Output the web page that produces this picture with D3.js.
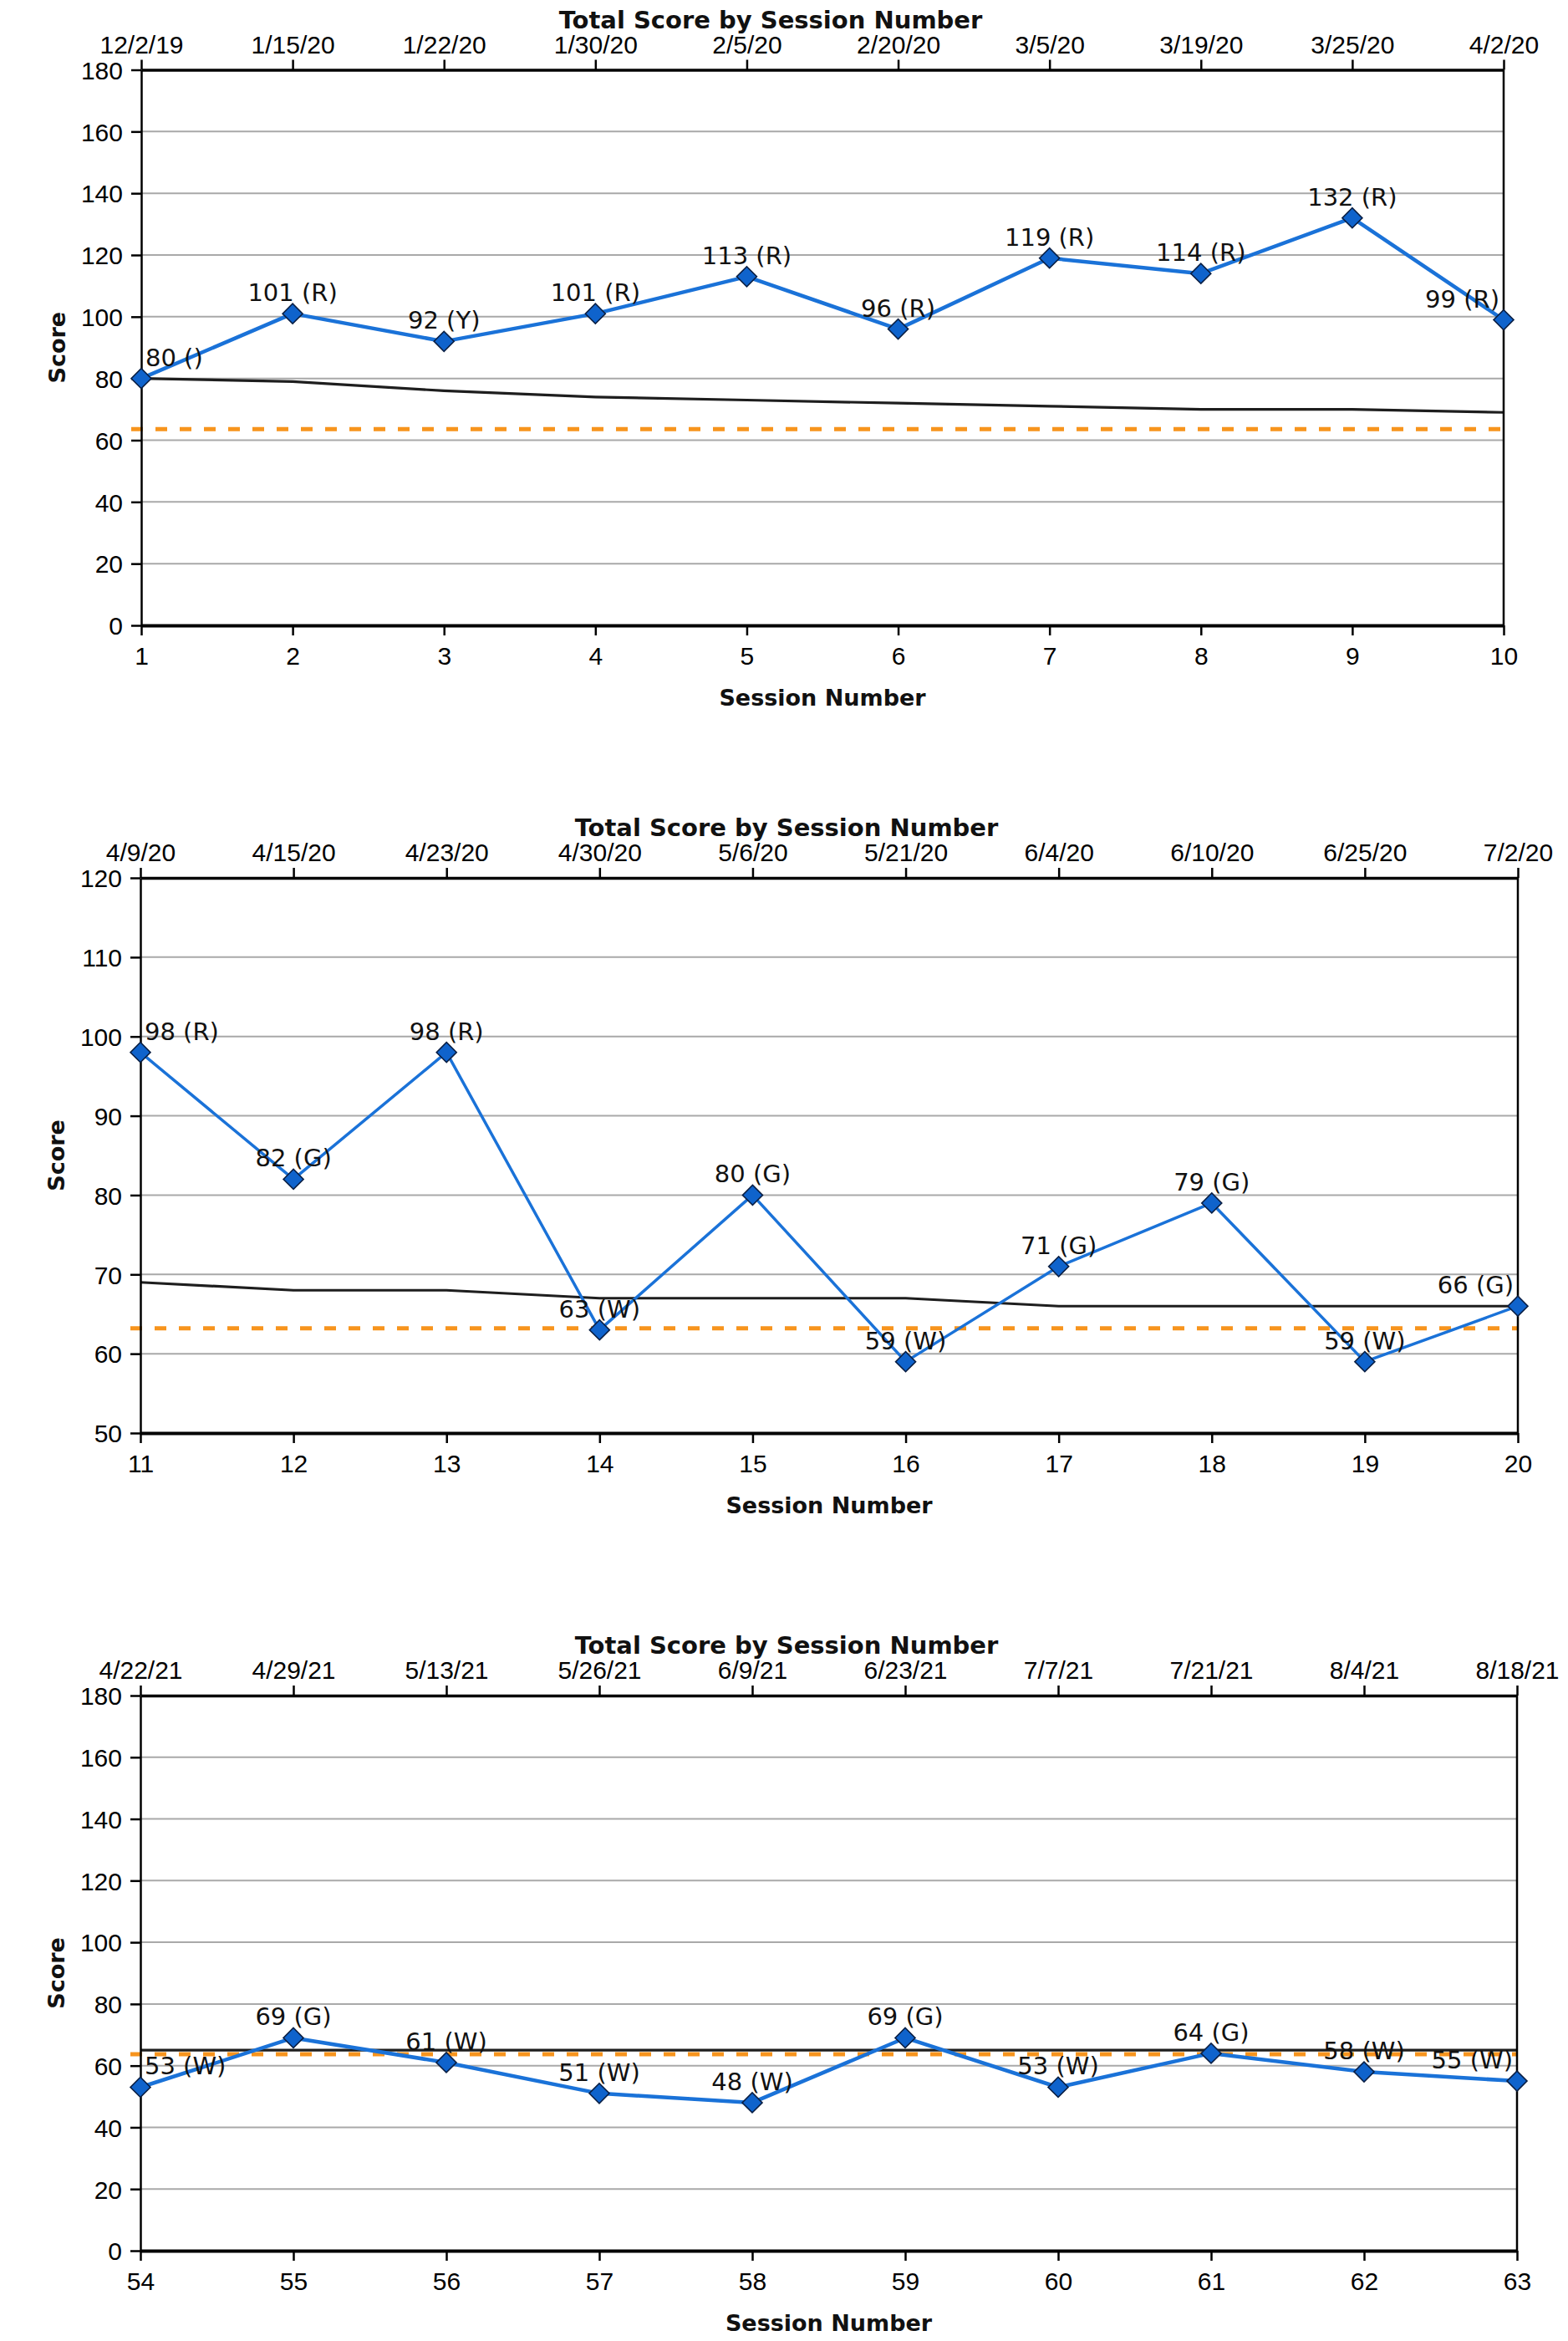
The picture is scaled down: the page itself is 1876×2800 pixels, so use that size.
<!DOCTYPE html>
<html><head><meta charset="utf-8">
<script src="https://cdn.jsdelivr.net/npm/d3@7"></script>
<style>body{margin:0;background:#fff}</style>
</head><body>
<svg id="c" width="1876" height="2800" style="display:block;background:#fff"></svg>
<script>
// ---------- data ----------
const sessions1 = [1,2,3,4,5,6,7,8,9,10];
const dates1 = ["12/2/19","1/15/20","1/22/20","1/30/20","2/5/20","2/20/20","3/5/20","3/19/20","3/25/20","4/2/20"];
const scores1 = [80,101,92,101,113,96,119,114,132,99];
const codes1 = ["","R","Y","R","R","R","R","R","R","R"];
const trend1 = [80,79,76,74,73,72,71,70,70,69];
const cutoff1 = 63.6;
const yTicks1 = [0,20,40,60,80,100,120,140,160,180];

const sessions2 = [11,12,13,14,15,16,17,18,19,20];
const dates2 = ["4/9/20","4/15/20","4/23/20","4/30/20","5/6/20","5/21/20","6/4/20","6/10/20","6/25/20","7/2/20"];
const scores2 = [98,82,98,63,80,59,71,79,59,66];
const codes2 = ["R","G","R","W","G","W","G","G","W","G"];
const trend2 = [69,68,68,67,67,67,66,66,66,66];
const cutoff2 = 63.2;
const yTicks2 = [50,60,70,80,90,100,110,120];

const sessions3 = [54,55,56,57,58,59,60,61,62,63];
const dates3 = ["4/22/21","4/29/21","5/13/21","5/26/21","6/9/21","6/23/21","7/7/21","7/21/21","8/4/21","8/18/21"];
const scores3 = [53,69,61,51,48,69,53,64,58,55];
const codes3 = ["W","G","W","W","W","G","W","G","W","W"];
const trend3 = [65,65,65,65,65,65,65,65,65,65];
const cutoff3 = 63.7;
const yTicks3 = [0,20,40,60,80,100,120,140,160,180];

const chartTitle = "Total Score by Session Number";
const xTitle = "Session Number";
const yTitle = "Score";

// ---------- layout ----------
const charts = [
  {sessions:sessions1, dates:dates1, scores:scores1, codes:codes1, trend:trend1, cutoff:cutoff1, yTicks:yTicks1,
   l:169, r:1799, t:83.5, b:748, titleX:922, lw:4.5},
  {sessions:sessions2, dates:dates2, scores:scores2, codes:codes2, trend:trend2, cutoff:cutoff2, yTicks:yTicks2,
   l:168, r:1816, t:1050, b:1714, titleX:941, lw:3.5},
  {sessions:sessions3, dates:dates3, scores:scores3, codes:codes3, trend:trend3, cutoff:cutoff3, yTicks:yTicks3,
   l:168, r:1815, t:2028, b:2692, titleX:941, lw:4.5}
];

const svg = d3.select("#c");
const TICKFONT = "'Liberation Sans', Arial, sans-serif";
const LABELFONT = "'DejaVu Sans', Verdana, sans-serif";

function draw(c) {
  const g = svg.append("g");
  const x = d3.scaleLinear().domain(d3.extent(c.sessions)).range([c.l, c.r]);
  const y = d3.scaleLinear().domain(d3.extent(c.yTicks)).range([c.b, c.t]);
  const ymin = d3.min(c.yTicks), ymax = d3.max(c.yTicks);

  // gridlines
  g.append("g").selectAll("line").data(c.yTicks.filter(v => v !== ymin && v !== ymax)).join("line")
    .attr("x1", c.l).attr("x2", c.r).attr("y1", d => y(d)).attr("y2", d => y(d))
    .attr("stroke", "#a9a9a9").attr("stroke-width", 2);

  // cutoff (orange dashed)
  g.append("line").attr("x1", c.l - 12).attr("x2", c.r)
    .attr("y1", y(c.cutoff)).attr("y2", y(c.cutoff))
    .attr("stroke", "#f7941d").attr("stroke-width", 5).attr("stroke-dasharray", "14,15");

  // trend (black)
  const trendLine = d3.line().x((d,i) => x(c.sessions[i])).y(d => y(d));
  g.append("path").attr("d", trendLine(c.trend)).attr("fill", "none")
    .attr("stroke", "#1e1e1e").attr("stroke-width", 3.2).attr("stroke-linejoin", "round");

  // axes
  const axL = g.append("g").attr("transform", `translate(${c.l},0)`)
    .call(d3.axisLeft(y).tickValues(c.yTicks).tickSize(12).tickSizeOuter(0).tickPadding(10).tickFormat(d3.format("d")));
  const axT = g.append("g").attr("transform", `translate(0,${c.t})`)
    .call(d3.axisTop(x).tickValues(c.sessions).tickSize(12).tickSizeOuter(0).tickPadding(8)
      .tickFormat((d,i) => c.dates[i]));
  const axB = g.append("g").attr("transform", `translate(0,${c.b})`)
    .call(d3.axisBottom(x).tickValues(c.sessions).tickSize(12).tickSizeOuter(0).tickPadding(14).tickFormat(d3.format("d")));
  g.append("line").attr("x1", c.r).attr("x2", c.r).attr("y1", c.t).attr("y2", c.b)
    .attr("stroke", "#000").attr("stroke-width", 2.5);
  [axL, axT, axB].forEach(a => {
    a.selectAll("text").attr("font-family", TICKFONT).attr("font-size", 30).attr("fill", "#000");
    a.selectAll(".tick line").attr("stroke", "#000").attr("stroke-width", 2.5);
    a.select(".domain").attr("stroke", "#000").attr("stroke-width", 2.5);
  });
  axT.select(".domain").attr("stroke-width", 3.5);
  axB.select(".domain").attr("stroke-width", 4);
  axL.selectAll(".tick text").attr("dy", "0.36em");

  // score line
  const scoreLine = d3.line().x((d,i) => x(c.sessions[i])).y(d => y(d));
  g.append("path").attr("d", scoreLine(c.scores)).attr("fill", "none")
    .attr("stroke", "#1a72d8").attr("stroke-width", c.lw).attr("stroke-linejoin", "round");

  // diamond markers
  const sym = d3.symbol().type(d3.symbolDiamond2 || d3.symbolSquare).size(288);
  g.append("g").selectAll("path").data(c.scores).join("path")
    .attr("transform", (d,i) => `translate(${x(c.sessions[i])},${y(d)}) rotate(45)`)
    .attr("d", d3.symbol().type(d3.symbolSquare).size(288)())
    .attr("fill", "#0f63cc").attr("stroke", "#0a1f44").attr("stroke-width", 1.6);

  // data labels
  g.append("g").selectAll("text").data(c.scores).join("text")
    .attr("font-family", LABELFONT).attr("font-size", 29).attr("fill", "#111")
    .attr("text-anchor", "middle")
    .attr("x", (d,i) => x(c.sessions[i]))
    .attr("y", d => y(d) - 15)
    .text((d,i) => `${d} (${c.codes[i]})`)
    .each(function() {
      const w = this.getComputedTextLength();
      const cx = +this.getAttribute("x");
      let nx = cx;
      if (cx - w/2 < c.l + 5) nx = c.l + 5 + w/2;
      if (cx + w/2 > c.r - 5) nx = c.r - 5 - w/2;
      this.setAttribute("x", nx);
    });

  // titles
  g.append("text").attr("x", c.titleX).attr("y", c.t - 50).attr("text-anchor", "middle")
    .attr("font-family", LABELFONT).attr("font-weight", "bold").attr("font-size", 29).attr("fill", "#111")
    .text(chartTitle);
  g.append("text").attr("x", (c.l + c.r) / 2).attr("y", c.b + 96).attr("text-anchor", "middle")
    .attr("font-family", LABELFONT).attr("font-weight", "bold").attr("font-size", 27).attr("fill", "#111")
    .text(xTitle);
  g.append("text").attr("transform", `translate(${c.l - 101},${(c.t + c.b) / 2}) rotate(-90)`)
    .attr("text-anchor", "middle").attr("dy", "0.36em")
    .attr("font-family", LABELFONT).attr("font-weight", "bold").attr("font-size", 27).attr("fill", "#111")
    .text(yTitle);
}

charts.forEach(draw);
</script>
</body></html>
